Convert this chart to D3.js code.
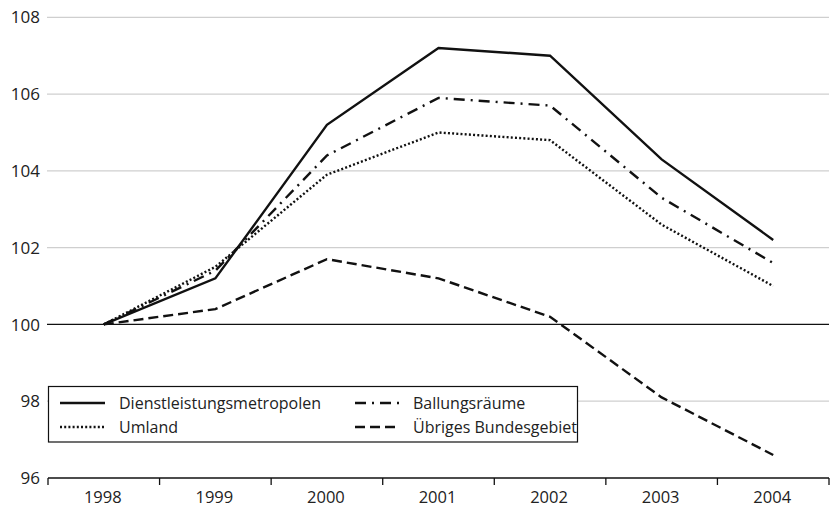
<!DOCTYPE html>
<html><head><meta charset="utf-8">
<script src="https://cdn.jsdelivr.net/npm/d3@7"></script>
<style>body{margin:0;background:#fff;}svg{display:block;}text{font-family:"Open Sans",sans-serif;fill:#222;}</style>
</head><body>
<svg id="c" width="835" height="508"></svg>
<script>
const years = ["1998","1999","2000","2001","2002","2003","2004"];
const dienst = [100, 101.2, 105.2, 107.2, 107.0, 104.3, 102.2];
const ballung = [100, 101.4, 104.4, 105.9, 105.7, 103.3, 101.6];
const umland = [100, 101.5, 103.9, 105.0, 104.8, 102.6, 101.0];
const uebrig = [100, 100.4, 101.7, 101.2, 100.2, 98.1, 96.6];
const yTicks = [96, 98, 100, 102, 104, 106, 108];
const seriesNames = ["Dienstleistungsmetropolen", "Ballungsräume", "Umland", "Übriges Bundesgebiet"];

const series = [
  {name: seriesNames[0], values: dienst, dash: null},
  {name: seriesNames[1], values: ballung, dash: "11,6,2,6"},
  {name: seriesNames[2], values: umland, dash: "2,2.2"},
  {name: seriesNames[3], values: uebrig, dash: "10,5"}
];

const svg = d3.select("#c");
const mLeft = 48, mRight = 829, mTop = 17.3, mBottom = 478;
const x = d3.scaleBand().domain(years).range([mLeft, mRight]);
const y = d3.scaleLinear().domain([96, 108]).range([mBottom, mTop]);

// gridlines
svg.append("g").selectAll("line").data(yTicks.filter(t => t !== 96)).join("line")
  .attr("x1", mLeft - 1).attr("x2", mRight)
  .attr("y1", d => y(d)).attr("y2", d => y(d))
  .attr("stroke", d => d === 100 ? "#111" : "#cfcfcf")
  .attr("stroke-width", 1.3);

// y labels
svg.append("g").selectAll("text").data(yTicks).join("text")
  .attr("x", 40).attr("y", d => y(d)).attr("dy", "0.36em")
  .attr("text-anchor", "end").attr("font-size", 17).text(d => d);

// x axis
const xa = svg.append("g");
xa.append("line").attr("x1", mLeft).attr("x2", mRight).attr("y1", mBottom).attr("y2", mBottom)
  .attr("stroke", "#111").attr("stroke-width", 1.3);
const bounds = years.map(d => x(d)).concat([mRight]);
xa.selectAll("line.t").data(bounds).join("line").attr("class", "t")
  .attr("x1", d => d).attr("x2", d => d).attr("y1", mBottom).attr("y2", mBottom + 7)
  .attr("stroke", "#111").attr("stroke-width", 1.3);
xa.selectAll("text").data(years).join("text")
  .attr("x", d => x(d) + x.bandwidth() / 2 - 1).attr("y", 502.5)
  .attr("text-anchor", "middle").attr("font-size", 16.5).text(d => d);

// lines
const line = d3.line().x((d, i) => x(years[i]) + x.bandwidth() / 2).y(d => y(d));
svg.append("g").selectAll("path").data(series).join("path")
  .attr("d", d => line(d.values))
  .attr("fill", "none").attr("stroke", "#111").attr("stroke-width", 2.4)
  .attr("stroke-dasharray", d => d.dash);

// legend
const lg = svg.append("g");
lg.append("rect").attr("x", 48.5).attr("y", 386.5).attr("width", 529).attr("height", 55.5)
  .attr("fill", "#fff").attr("stroke", "#111").attr("stroke-width", 1.2);
const legItems = [
  {s: series[0], lx: 60, tx: 119, cy: 403},
  {s: series[2], lx: 60, tx: 119, cy: 427},
  {s: series[1], lx: 355, tx: 413, cy: 403},
  {s: series[3], lx: 355, tx: 413, cy: 427}
];
legItems.forEach(it => {
  lg.append("line").attr("x1", it.lx).attr("x2", it.lx + 45).attr("y1", it.cy).attr("y2", it.cy)
    .attr("stroke", "#111").attr("stroke-width", 2.4).attr("stroke-dasharray", it.s.dash);
  lg.append("text").attr("x", it.tx).attr("y", it.cy).attr("dy", "0.35em")
    .attr("font-size", 16).text(it.s.name);
});
</script>
</body></html>
